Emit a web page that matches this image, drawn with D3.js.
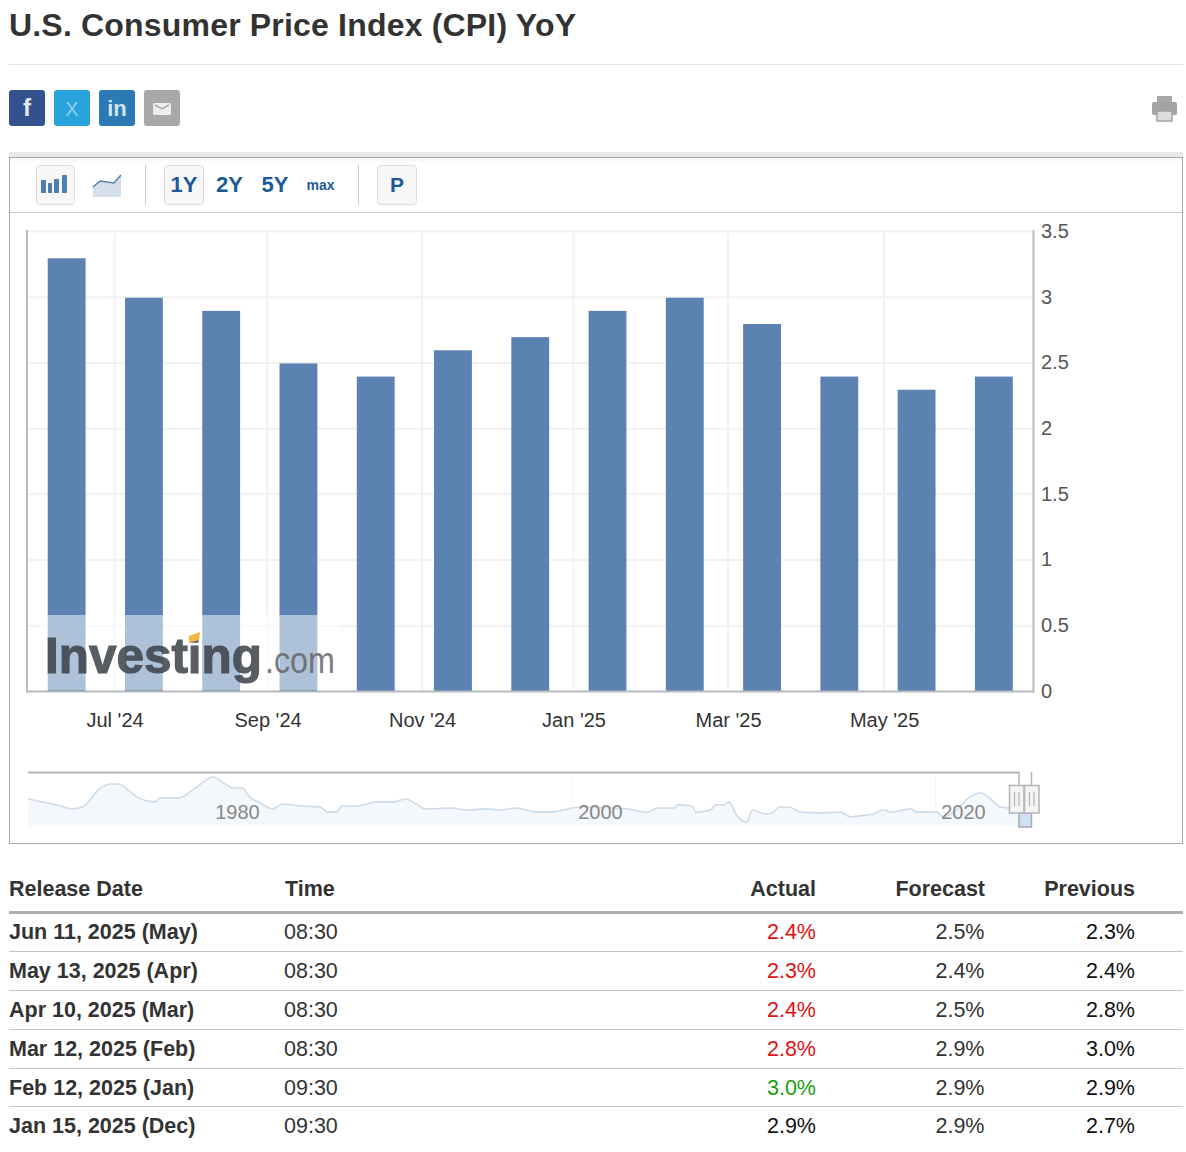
<!DOCTYPE html>
<html lang="en">
<head>
<meta charset="utf-8">
<title>U.S. Consumer Price Index (CPI) YoY</title>
<script src="https://cdn.jsdelivr.net/npm/d3@7/dist/d3.min.js"></script>
<style>
  html, body { margin: 0; padding: 0; background: #fff; overflow: hidden; }
  svg { display: block; font-family: "Liberation Sans", Arial, sans-serif; }
  .yaxis path, .yaxis line, .xaxis path, .xaxis line { display: none; }
</style>
</head>
<body>
<svg id="page" width="1186" height="1152"></svg>
<script>
// monthly bars, by release date
const releases = ["Jun 12, 2024","Jul 11, 2024","Aug 14, 2024","Sep 11, 2024","Oct 10, 2024","Nov 13, 2024",
                  "Dec 11, 2024","Jan 15, 2025","Feb 12, 2025","Mar 12, 2025","Apr 10, 2025","May 13, 2025","Jun 11, 2025"];
const cpiValues = [3.3, 3.0, 2.9, 2.5, 2.4, 2.6, 2.7, 2.9, 3.0, 2.8, 2.4, 2.3, 2.4];
const yTicks = [0, 0.5, 1, 1.5, 2, 2.5, 3, 3.5];

// the axis is ordinal, so month ticks sit between bars: position in bar units
const xTickLabels = ["Jul '24", "Sep '24", "Nov '24", "Jan '25", "Mar '25", "May '25"];
const xTickSlots  = [0.62, 2.6, 4.6, 6.56, 8.56, 10.58];

// navigator: long history
const navYears = [1970,1970.8,1971.8,1972.4,1973,1974,1974.5,1975,1975.5,1976,1976.6,1977,1977.3,1978.3,1979.3,1980.2,1980.7,1981.3,1981.8,1982.2,1982.8,1983.5,1984,1985,1986.1,1986.5,1987,1987.3,1988.1,1989.2,1990.1,1990.8,1991.4,1991.9,1993.3,1994.2,1995.3,1996,1996.9,1998,1998.8,2000.4,2003,2004.1,2004.7,2005.6,2005.8,2006.6,2006.8,2007.6,2007.9,2008.3,2008.6,2009.1,2009.6,2009.9,2010.6,2011,2011.4,2011.9,2012.6,2013.5,2014.8,2015.3,2015.8,2016.6,2017.1,2017.6,2018.6,2019,2020.1,2020.4,2021,2021.9,2022.5,2022.9,2023.6,2024.1];
const navValues = [6.2,5.1,3.6,2.5,3.2,10.3,11.8,11.8,9.6,7,5.4,5.1,6.6,6.6,10.7,14.4,12.5,10.3,10.3,7,4.7,2.5,4.3,3.6,3.2,1.3,1.3,3.6,3.6,5.1,5.1,6.2,4.3,2.5,2.8,2.1,2.5,2.1,2.8,1.3,1.3,3.2,2.5,1.3,2.8,2.8,4,3.6,1.3,2.1,4,4,5.1,-0.5,-2.4,2.1,0.6,1,3.2,3.2,1.3,1,1.3,-0.5,-0.1,0.6,2.1,1.3,2.5,1.3,1.3,-0.5,1.3,7,8.5,7,3.2,2.8];
const navTickYears = [1980, 2000, 2020];

// table
const tableHead = ["Release Date", "Time", "Actual", "Forecast", "Previous"];
const rowDates    = ["Jun 11, 2025 (May)","May 13, 2025 (Apr)","Apr 10, 2025 (Mar)","Mar 12, 2025 (Feb)","Feb 12, 2025 (Jan)","Jan 15, 2025 (Dec)"];
const rowTimes    = ["08:30","08:30","08:30","08:30","09:30","09:30"];
const rowActual   = [2.4, 2.3, 2.4, 2.8, 3.0, 2.9];
const rowForecast = [2.5, 2.4, 2.5, 2.9, 2.9, 2.9];
const rowPrevious = [2.3, 2.4, 2.8, 3.0, 2.9, 2.7];

const svg = d3.select('#page');

function line (x1, y1, x2, y2, color, w) {
  return svg.append('line').attr('x1', x1).attr('y1', y1).attr('x2', x2).attr('y2', y2)
    .attr('stroke', color).attr('stroke-width', w || 1);
}
function label (parent, x, y, str, size, color, anchor, weight) {
  return parent.append('text').attr('x', x).attr('y', y).text(str)
    .attr('font-size', size).attr('fill', color)
    .attr('text-anchor', anchor || 'start').attr('font-weight', weight || 'normal');
}

/* ---------- header ---------- */
label(svg, 9, 36, 'U.S. Consumer Price Index (CPI) YoY', 32, '#333', 'start', 'bold')
  .attr('textLength', 567).attr('lengthAdjust', 'spacing');
line(9, 64.5, 1183, 64.5, '#e2e2e2');

const shareColors = ['#33508f', '#28a3dc', '#2b7ab5', '#a8a8a8'];
const shareX = [9, 54, 99, 144];
svg.selectAll('rect.share').data(shareColors).join('rect').attr('class', 'share')
  .attr('x', (d, i) => shareX[i]).attr('y', 90).attr('width', 36).attr('height', 36).attr('rx', 3)
  .attr('fill', d => d);
label(svg, 27, 116, 'f', 24, '#e8edf5', 'middle', 'bold');
label(svg, 72, 116, 'X', 20, '#8fd0ee', 'middle');
label(svg, 117, 116, 'in', 22, '#d4e5f1', 'middle', 'bold');
svg.append('rect').attr('x', 153).attr('y', 103).attr('width', 18).attr('height', 12).attr('rx', 1.5).attr('fill', '#eee');
svg.append('path').attr('d', 'M155 105 L162 109 L169 105').attr('fill', 'none').attr('stroke', '#a8a8a8').attr('stroke-width', 1.5);

// printer
svg.append('rect').attr('x', 1157).attr('y', 96).attr('width', 15).attr('height', 6).attr('fill', '#a8a8a8');
svg.append('rect').attr('x', 1152).attr('y', 102).attr('width', 25).attr('height', 13).attr('rx', 2).attr('fill', '#a3a3a3');
svg.append('rect').attr('x', 1157).attr('y', 111).attr('width', 15).attr('height', 10).attr('fill', '#ddd').attr('stroke', '#a3a3a3').attr('stroke-width', 1.5);

/* ---------- chart frame + toolbar ---------- */
const shade = svg.append('defs').append('linearGradient').attr('id', 'shade').attr('x1', 0).attr('x2', 0).attr('y1', 0).attr('y2', 1);
shade.append('stop').attr('offset', 0).attr('stop-color', '#f5f5f5');
shade.append('stop').attr('offset', 1).attr('stop-color', '#fff');
svg.append('rect').attr('x', 9).attr('y', 152).attr('width', 1174).attr('height', 5).attr('fill', '#e8e8e8');
svg.append('rect').attr('x', 9.5).attr('y', 157.5).attr('width', 1173).attr('height', 686).attr('fill', '#fff').attr('stroke', '#aaa');
svg.append('rect').attr('x', 10).attr('y', 158).attr('width', 1172).attr('height', 6).attr('fill', 'url(#shade)');
line(10, 212.5, 1182, 212.5, '#ccc');
line(145.5, 165, 145.5, 205, '#ccc');
line(358.5, 165, 358.5, 205, '#ccc');

[[36, 39], [164, 40], [377, 40]].forEach(([bx, w]) => {
  svg.append('rect').attr('x', bx + 0.5).attr('y', 165.5).attr('width', w - 1).attr('height', 39).attr('rx', 3)
    .attr('fill', '#f7f7f7').attr('stroke', '#dcdcdc');
});
// bar icon: heights are just icon geometry
[[41, 180, 5, 13], [48, 183, 4, 10], [54, 179, 5, 14], [62, 175, 5, 18]].forEach(([bx, by, w, h]) => {
  svg.append('rect').attr('x', bx).attr('y', by).attr('width', w).attr('height', h).attr('fill', '#4f7fae');
});
svg.append('path').attr('d', 'M93 187 L100 181 L107 182 L114 183 L121 175 L121 197 L93 197 Z').attr('fill', '#d5dfeb');
svg.append('path').attr('d', 'M93 187 L100 181 L107 182 L114 183 L121 175').attr('fill', 'none').attr('stroke', '#5b85b0').attr('stroke-width', 1.6);

const btnBlue = '#1b5a97';
label(svg, 184, 192, '1Y', 22, btnBlue, 'middle', 'bold');
label(svg, 229.5, 192, '2Y', 22, btnBlue, 'middle', 'bold');
label(svg, 275, 192, '5Y', 22, btnBlue, 'middle', 'bold');
label(svg, 320.5, 190, 'max', 14, btnBlue, 'middle', 'bold');
label(svg, 397, 192, 'P', 21, btnBlue, 'middle', 'bold');

/* ---------- main plot ---------- */
const plotL = 28, plotR = 1033, plotT = 231, plotB = 691;

const x = d3.scaleBand().domain(releases).range([plotL, plotR - 0.5]).paddingInner(0.51).paddingOuter(0.255);
const slot = d3.scaleLinear().domain([0, releases.length - 1])
  .range([x(releases[0]) + x.bandwidth() / 2, x(releases[releases.length - 1]) + x.bandwidth() / 2]);
const y = d3.scaleLinear().domain([0, 3.5]).range([plotB, plotT]);

const grid = svg.append('g');
grid.selectAll('line.h').data(yTicks).join('line').attr('class', 'h')
  .attr('x1', plotL).attr('x2', plotR).attr('y1', d => y(d) + 0.5).attr('y2', d => y(d) + 0.5)
  .attr('stroke', '#f1f1f1').attr('stroke-width', 2);
grid.selectAll('line.v').data(xTickSlots).join('line').attr('class', 'v')
  .attr('x1', d => slot(d)).attr('x2', d => slot(d)).attr('y1', plotT).attr('y2', plotB)
  .attr('stroke', '#f1f1f1').attr('stroke-width', 2);

// bars sit a pixel under the gridlines' positions in the original
svg.append('g').attr('transform', 'translate(0,1)').selectAll('rect').data(cpiValues).join('rect')
  .attr('x', (d, i) => x(releases[i])).attr('width', x.bandwidth())
  .attr('y', d => y(d)).attr('height', d => y(0) - y(d) - 1)
  .attr('fill', '#5b82b0');

// watermark
svg.append('rect').attr('x', 40).attr('y', 615).attr('width', 300).attr('height', 75).attr('fill', '#fff').attr('opacity', 0.5);
const wm = svg.append('g');
label(wm, 45, 673, 'Investing', 50, '#3b4149', 'start', 'bold')
  .attr('textLength', 217).attr('lengthAdjust', 'spacingAndGlyphs')
  .attr('stroke', '#3b4149').attr('stroke-width', 1.2).attr('opacity', 0.85);
label(wm, 265, 673, '.com', 36, '#666', 'start').attr('textLength', 70).attr('lengthAdjust', 'spacingAndGlyphs').attr('opacity', 0.85);
wm.append('path').attr('d', 'M189 636 L200 632 L199 640 L189 643 Z').attr('fill', '#f5b342');

// plot border
line(27, 230, 27, 692.5, '#b8bcc0', 2);
line(1033.5, 230, 1033.5, 692.5, '#b8bcc0', 2);
line(26, 691.5, 1034, 691.5, '#b8bcc0', 2);

const yAxis = svg.append('g').attr('class', 'yaxis').attr('transform', `translate(${plotR + 8},0)`)
  .call(d3.axisRight(y).tickValues(yTicks).tickSize(0).tickPadding(0).tickFormat(d3.format('')));
yAxis.selectAll('text').attr('font-size', 20).attr('fill', '#555').attr('font-family', 'inherit');

const xAxis = svg.append('g').attr('class', 'xaxis').attr('transform', `translate(0,${plotB + 22})`)
  .call(d3.axisBottom(slot).tickValues(xTickSlots).tickSize(0).tickPadding(0)
    .tickFormat((d, i) => xTickLabels[i]));
xAxis.selectAll('text').attr('font-size', 20).attr('fill', '#333').attr('font-family', 'inherit');

/* ---------- navigator ---------- */
const nx = d3.scaleLinear().domain([1970, 2020]).range([28, 935.5]);
const ny = d3.scaleLinear().domain([14.4, -2.4]).range([777, 822]);
const navBase = 826;
const navPts = navYears.map((yr, i) => [yr, navValues[i]]);

svg.append('g').selectAll('line').data(navTickYears).join('line')
  .attr('x1', d => nx(d)).attr('x2', d => nx(d)).attr('y1', 773).attr('y2', navBase)
  .attr('stroke', '#f5f5f5');
svg.append('path').datum(navPts)
  .attr('d', d3.area().curve(d3.curveMonotoneX).x(d => nx(d[0])).y0(navBase).y1(d => ny(d[1])))
  .attr('fill', '#f3f8fd');
svg.append('path').datum(navPts)
  .attr('d', d3.line().curve(d3.curveMonotoneX).x(d => nx(d[0])).y(d => ny(d[1])))
  .attr('fill', 'none').attr('stroke', '#cddcea').attr('stroke-width', 1.6);
svg.append('rect').attr('x', nx(2024.1)).attr('y', ny(2.8)).attr('width', 1019 - nx(2024.1)).attr('height', navBase - ny(2.8)).attr('fill', '#f3f8fd');
line(nx(2024.1), ny(2.8), 1019, ny(2.8), '#cddcea', 1.6);

svg.append('g').selectAll('text').data(navTickYears).join('text')
  .attr('x', d => nx(d) + 28).attr('y', 819).attr('text-anchor', 'middle')
  .attr('font-size', 20).attr('fill', '#888').text(d => d);

line(28, 772.5, 1019, 772.5, '#b5b5b5', 2);
svg.append('rect').attr('x', 1019).attr('y', 813).attr('width', 12.5).attr('height', 14)
  .attr('fill', '#cfe0f6').attr('stroke', '#aaa').attr('stroke-width', 1.5);
line(1019, 772, 1019, 786, '#b5b5b5', 1.5);
line(1031.5, 772, 1031.5, 786, '#b5b5b5', 1.5);
[1009.5, 1024.5].forEach(hx => {
  svg.append('rect').attr('x', hx).attr('y', 785.5).attr('width', 14.5).attr('height', 27.5)
    .attr('fill', '#f4f4f4').attr('stroke', '#b5b5b5').attr('stroke-width', 1.5);
  line(hx + 5, 792, hx + 5, 806, '#b5b5b5', 1.2);
  line(hx + 9.5, 792, hx + 9.5, 806, '#b5b5b5', 1.2);
});

/* ---------- table ---------- */
const pct = d3.format('.1f');
const tbl = svg.append('g');
const rowBase = [939, 978, 1017, 1056, 1095, 1133];
const rowRule = [951.5, 990.5, 1029.5, 1068.5, 1106.5];
const colX = [9, 285, 816, 985, 1135];

tableHead.forEach((h, i) => label(tbl, colX[i], 896, h, 21.5, '#333', i < 2 ? 'start' : 'end', 'bold'));
line(9, 912.5, 1183, 912.5, '#b0b0b0', 3);
rowRule.forEach(r => line(9, r, 1183, r, '#c4c4c4'));

function actualColor (i) {
  if (rowActual[i] > rowForecast[i]) return '#1a9c0f';
  if (rowActual[i] < rowForecast[i]) return '#e01010';
  return '#111';
}
rowDates.forEach((d, i) => {
  const b = rowBase[i];
  label(tbl, colX[0], b, d, 21.5, '#333', 'start', 'bold');
  label(tbl, 284, b, rowTimes[i], 21.5, '#333');
  label(tbl, colX[2], b, pct(rowActual[i]) + '%', 21.5, actualColor(i), 'end');
  label(tbl, 984.5, b, pct(rowForecast[i]) + '%', 21.5, '#333', 'end');
  label(tbl, colX[4], b, pct(rowPrevious[i]) + '%', 21.5, '#111', 'end');
});
</script>
</body>
</html>
